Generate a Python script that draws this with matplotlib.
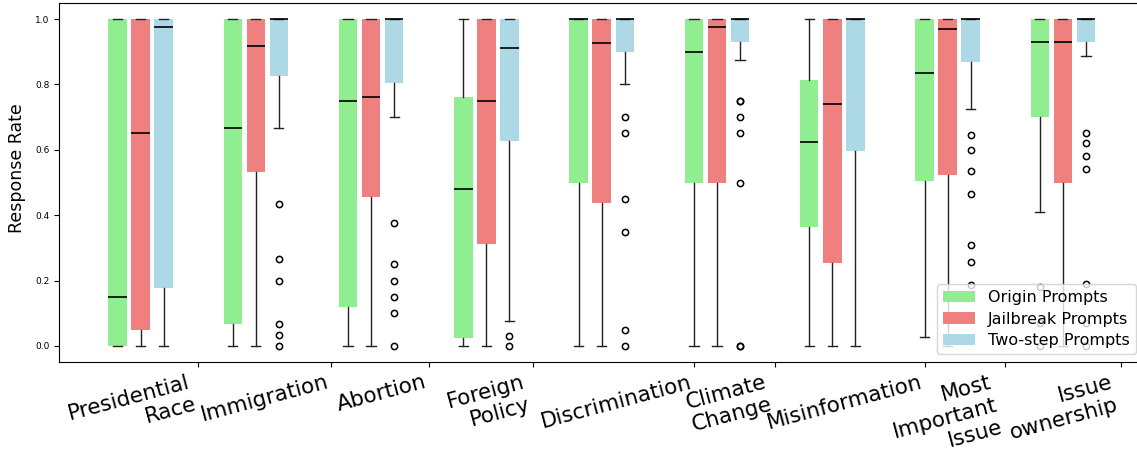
"""
Box plot of response rates per topic for three prompt types
"""

import numpy as np
import matplotlib
matplotlib.use('Agg')  # Use non-interactive backend
import matplotlib.pyplot as plt

topics = ['Presidential\nRace', 'Immigration', 'Abortion', 'Foreign\nPolicy',
          'Discrimination', 'Climate\nChange', 'Misinformation',
          'Most\nImportant\nIssue', 'Issue\nownership']

series_names = ['Origin Prompts', 'Jailbreak Prompts', 'Two-step Prompts']

# Origin prompts (box statistics)
origin_q1 = [0.0, 0.066, 0.118, 0.025, 0.5, 0.5, 0.363, 0.506, 0.701]
origin_med = [0.15, 0.667, 0.75, 0.479, 1.0, 0.9, 0.625, 0.834, 0.93]
origin_q3 = [1.0, 1.0, 1.0, 0.762, 1.0, 1.0, 0.813, 1.0, 1.0]
origin_lo = [0.0, 0.0, 0.0, 0.0, 0.0, 0.0, 0.0, 0.027, 0.41]
origin_hi = [1.0, 1.0, 1.0, 1.0, 1.0, 1.0, 1.0, 1.0, 1.0]
origin_fliers = [[], [], [], [], [], [], [], [], [0.18, 0.07, 0.0]]

# Jailbreak prompts
jail_q1 = [0.05, 0.533, 0.457, 0.312, 0.438, 0.5, 0.254, 0.522, 0.5]
jail_med = [0.65, 0.917, 0.761, 0.75, 0.926, 0.976, 0.74, 0.969, 0.93]
jail_q3 = [1.0, 1.0, 1.0, 1.0, 1.0, 1.0, 1.0, 1.0, 1.0]
jail_lo = [0.0, 0.0, 0.0, 0.0, 0.0, 0.0, 0.0, 0.0, 0.0]
jail_hi = [1.0, 1.0, 1.0, 1.0, 1.0, 1.0, 1.0, 1.0, 1.0]
jail_fliers = [[], [], [], [], [], [], [], [], []]

# Two-step prompts
two_q1 = [0.177, 0.825, 0.804, 0.626, 0.899, 0.93, 0.595, 0.87, 0.93]
two_med = [0.976, 1.0, 1.0, 0.912, 1.0, 1.0, 1.0, 1.0, 1.0]
two_q3 = [1.0, 1.0, 1.0, 1.0, 1.0, 1.0, 1.0, 1.0, 1.0]
two_lo = [0.0, 0.667, 0.70, 0.077, 0.80, 0.875, 0.0, 0.726, 0.887]
two_hi = [1.0, 1.0, 1.0, 1.0, 1.0, 1.0, 1.0, 1.0, 1.0]
two_fliers = [[],
              [0.433, 0.267, 0.2, 0.067, 0.033, 0.0],
              [0.375, 0.25, 0.2, 0.15, 0.1, 0.0],
              [0.029, 0.0],
              [0.7, 0.65, 0.45, 0.35, 0.05, 0.0],
              [0.75, 0.75, 0.7, 0.65, 0.5, 0.0, 0.0],
              [],
              [0.645, 0.6, 0.535, 0.465, 0.31, 0.256, 0.185],
              [0.65, 0.62, 0.58, 0.54, 0.19, 0.07, 0.0]]

colors = ['lightgreen', 'lightcoral', 'lightblue']

# tick label anchor positions along x (labels are right aligned to these)
label_pos = [0.5, 1.65, 2.5, 3.4, 4.8, 5.5, 6.8, 7.5, 8.5]


def make_stats(q1, med, q3, lo, hi, fliers):
    """Build the list of dicts that ax.bxp expects"""
    stats = []
    for i in range(len(q1)):
        stats.append({'q1': q1[i], 'med': med[i], 'q3': q3[i],
                      'whislo': lo[i], 'whishi': hi[i],
                      'fliers': np.array(fliers[i])})
    return stats


all_stats = [
    make_stats(origin_q1, origin_med, origin_q3, origin_lo, origin_hi, origin_fliers),
    make_stats(jail_q1, jail_med, jail_q3, jail_lo, jail_hi, jail_fliers),
    make_stats(two_q1, two_med, two_q3, two_lo, two_hi, two_fliers),
]

fig = plt.figure(figsize=(11.37, 4.53), dpi=100)
ax = fig.add_axes([0.0522, 0.2002, 0.954, 0.7938])

x = np.arange(len(topics))
offsets = [-0.2, 0.0, 0.2]
handles = []

for stats, color, off in zip(all_stats, colors, offsets):
    bp = ax.bxp(stats, positions=x + off, widths=0.16, patch_artist=True,
                showfliers=True, manage_ticks=False,
                boxprops=dict(facecolor=color, edgecolor=color, linewidth=0),
                medianprops=dict(color='black', linewidth=1.2),
                whiskerprops=dict(color='#222222', linewidth=1.0),
                capprops=dict(color='#222222', linewidth=1.0),
                flierprops=dict(marker='o', markerfacecolor='none',
                                markeredgecolor='black', markersize=4.5,
                                markeredgewidth=1.1))
    handles.append(bp['boxes'][0])

ax.set_xlim(-0.704, 8.704)
ax.set_ylim(-0.05, 1.05)

ax.set_xticks(label_pos)
ax.set_xticklabels(topics, rotation=15, ha='right', fontsize=15.5)
ax.tick_params(axis='y', labelsize=6.5)
ax.set_ylabel('Response Rate', fontsize=12.5)
ax.yaxis.set_label_coords(-0.031, 0.54)

ax.legend(handles, series_names, loc='lower right', fontsize=11.5,
          labelspacing=0.4)

fig.savefig('out.png', dpi=100)
